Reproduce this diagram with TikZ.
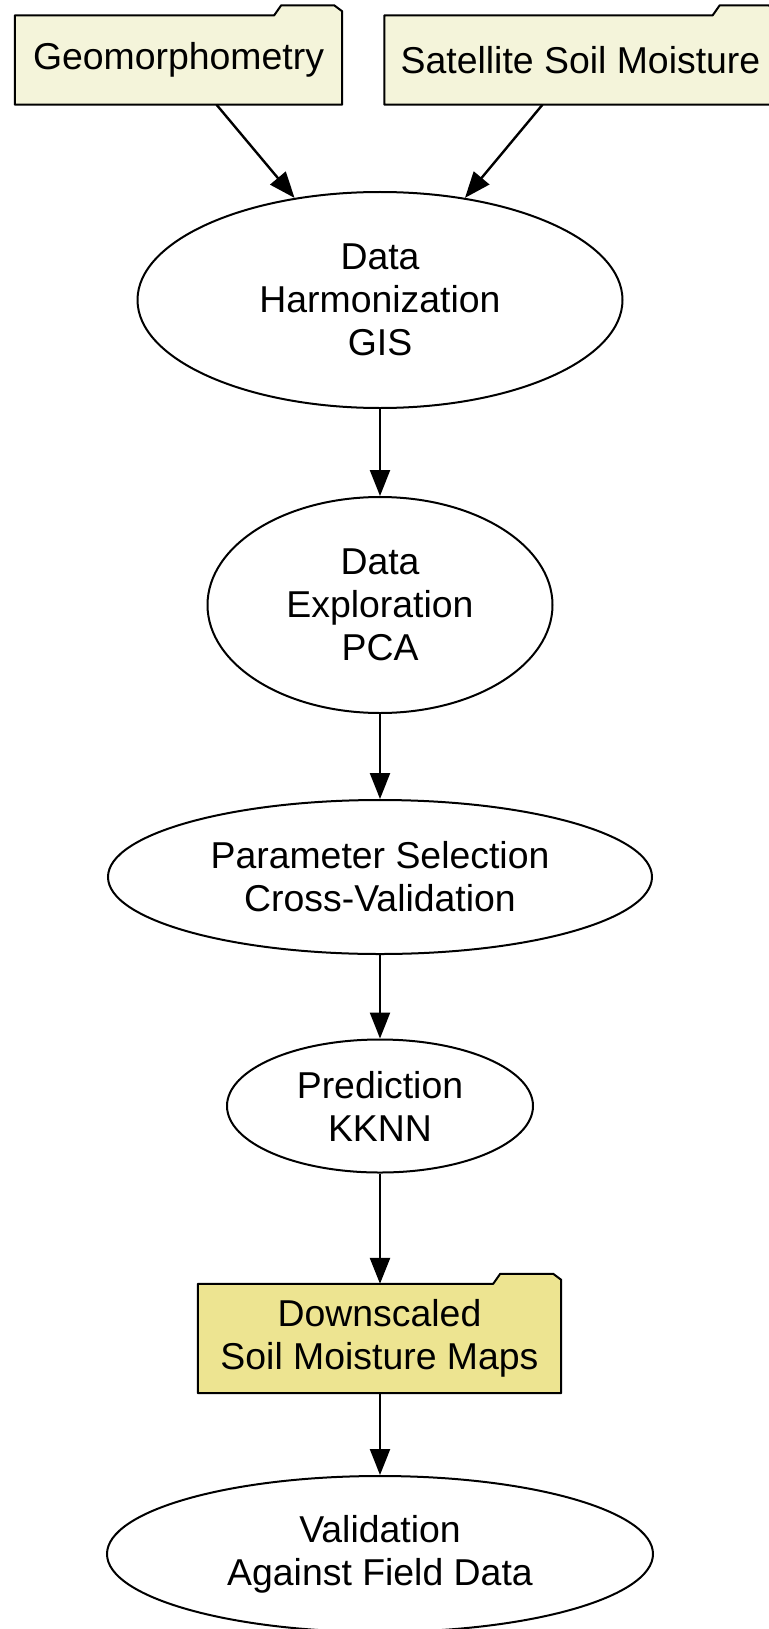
\documentclass[tikz,border=0pt]{standalone}
\usepackage{fontspec}
\setmainfont{Liberation Sans}
\usetikzlibrary{shapes.geometric,arrows.meta,backgrounds}

\definecolor{datafill}{HTML}{F4F4DA}
\definecolor{mapfill}{HTML}{EDE491}

\tikzset{
  every node/.style={font=\fontsize{37.4}{43}\selectfont, align=center, inner sep=0pt},
  proc/.style={ellipse, draw, line width=2pt},
  data/.style={rectangle},
  folder/.style={draw, line width=2pt, line join=round},
  arr/.style={-{Triangle[length=26pt,width=20pt]}, line width=2.4pt}
}

% folder outline behind a data node: name, fill, tab width
\newcommand{\folderbox}[3]{%
  \draw[folder, fill=#2] (#1.south west) -- (#1.north west)
    -- ([shift={(-#3,0)}]#1.north east) -- ++(7,-10)
    -- ([shift={(-8,-10)}]#1.north east) -- ([shift={(0,-4)}]#1.north east)
    -- (#1.south east) -- cycle;}

\begin{document}
\begin{tikzpicture}[x=1pt, y=-1pt]
  \useasboundingbox (0,0) rectangle (768,1629);

  \node[data, minimum width=327pt, minimum height=89pt] (geo) at (178.5,60) {Geomorphometry};
  \node[data, minimum width=392pt, minimum height=89pt] (sat) at (580.5,60) {Satellite Soil Moisture};
  \node[proc, minimum width=485pt, minimum height=216pt] (harm) at (380,300) {Data\\Harmonization\\GIS};
  \node[proc, minimum width=345pt, minimum height=216pt] (expl) at (380,605) {Data\\Exploration\\PCA};
  \node[proc, minimum width=544pt, minimum height=154pt] (param) at (380,877) {Parameter Selection\\Cross-Validation};
  \node[proc, minimum width=306pt, minimum height=133pt] (pred) at (380,1106) {Prediction\\KKNN};
  \node[data, minimum width=363pt, minimum height=109pt] (maps) at (379.5,1338.5) {Downscaled\\Soil Moisture Maps};
  \node[proc, minimum width=546pt, minimum height=156pt] (valid) at (380,1554) {Validation\\Against Field Data};

  \begin{scope}[on background layer]
    \folderbox{geo}{datafill}{68}
    \folderbox{sat}{datafill}{64}
    \folderbox{maps}{mapfill}{68}
  \end{scope}

  \draw[arr] ([xshift=38pt]geo.south) -- (harm);
  \draw[arr] ([xshift=-38pt]sat.south) -- (harm);
  \draw[arr] (harm.south) -- (expl.north);
  \draw[arr] (expl.south) -- (param.north);
  \draw[arr] (param.south) -- (pred.north);
  \draw[arr] (pred.south) -- (pred.south |- maps.north);
  \draw[arr] (maps.south -| valid.north) -- (valid.north);
\end{tikzpicture}
\end{document}
